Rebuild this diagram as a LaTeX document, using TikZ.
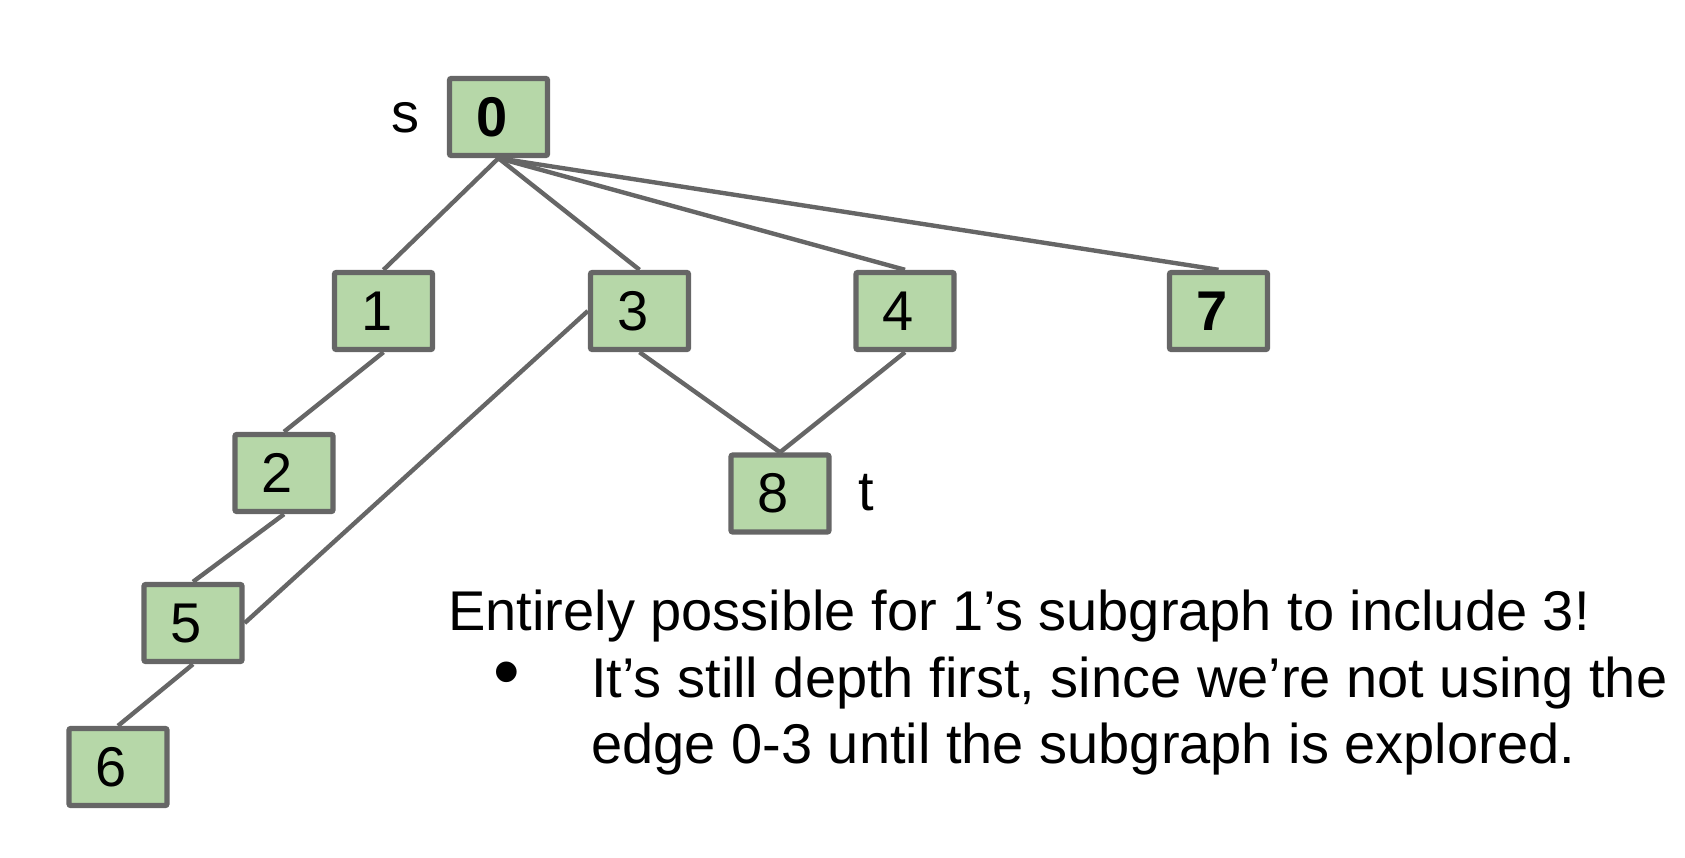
\documentclass[tikz,border=0pt]{standalone}
\usepackage{fontspec}
\setmainfont{Liberation Sans}
\usepackage{tikz}
\definecolor{vfill}{HTML}{B6D7A8}
\definecolor{vline}{HTML}{666666}
\tikzset{
  vert/.style={draw=vline, fill=vfill, line width=2.7pt, rounded corners=1pt,
    minimum width=49pt, minimum height=38.5pt, inner sep=0pt,
    font=\fontsize{28}{33}\selectfont, execute at begin node=\kern-6.5pt},
  edge/.style={draw=vline, line width=2.2pt},
  lbl/.style={font=\fontsize{28}{33}\selectfont, inner sep=0pt}
}
\begin{document}
\begin{tikzpicture}[x=0.5pt, y=-0.5pt]
      \path[use as bounding box] (0,0) rectangle (1685,857);

      \node[vert] (n0) at (498.5,117) {\textbf{0}};
      \node[vert] (n1) at (383.5,311) {1};
      \node[vert] (n3) at (639.5,311) {3};
      \node[vert] (n4) at (905,311) {4};
      \node[vert] (n7) at (1218.5,311) {\textbf{7}};
      \node[vert] (n2) at (284,473) {2};
      \node[vert] (n5) at (193,623) {5};
      \node[vert] (n6) at (118,767) {6};
      \node[vert] (n8) at (780,493.5) {8};

      \node[lbl] (s) at (405,118) {s};
      \node[lbl] (t) at (866,493) {t};

      \draw[edge] (n0.south) -- (n1.north);
      \draw[edge] (n0.south) -- (n3.north);
      \draw[edge] (n0.south) -- (n4.north);
      \draw[edge] (n0.south) -- (n7.north);
      \draw[edge] (n1.south) -- (n2.north);
      \draw[edge] (n2.south) -- (n5.north);
      \draw[edge] (n5.south) -- (n6.north);
      \draw[edge] (n3.west) -- (n5.east);
      \draw[edge] (n3.south) -- (n8.north);
      \draw[edge] (n4.south) -- (n8.north);

      \node[lbl, anchor=base west] (line1) at (448,630) {Entirely possible for 1’s subgraph to include 3!};
      \node[lbl, font=\fontsize{38}{40}\selectfont] (dot) at (507,680) {•};
      \node[lbl, anchor=base west] (line2) at (591,697) {It’s still depth first, since we’re not using the};
      \node[lbl, anchor=base west] (line3) at (591,763) {edge 0-3 until the subgraph is explored.};
    \end{tikzpicture}
\end{document}
